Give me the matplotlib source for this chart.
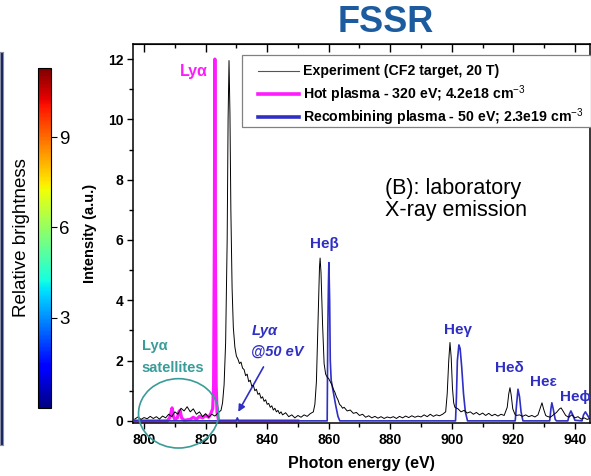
import matplotlib
matplotlib.use("Agg")
import matplotlib.pyplot as plt
import matplotlib.colors as mcolors
import matplotlib.colorbar as mcolorbar
from matplotlib.patches import Ellipse, Rectangle
from matplotlib.lines import Line2D
from matplotlib.ticker import MultipleLocator

plt.rcParams['font.family'] = ['Liberation Sans', 'DejaVu Sans']
plt.rcParams['mathtext.fontset'] = 'custom'
plt.rcParams['mathtext.rm'] = 'Liberation Sans'
plt.rcParams['mathtext.bf'] = 'Liberation Sans:bold'

# ---------------- data ----------------
exp_energy = [797, 798, 799, 800, 801, 802, 803, 804, 805, 806, 807, 808, 809, 810,
              811, 812, 813, 814, 815, 816, 817, 818, 819, 820, 821, 822, 823, 824,
              825, 825.5, 826, 826.5, 827, 827.3, 827.6, 827.9, 828.2, 828.6, 829,
              829.5, 830, 830.5, 831, 831.5, 832, 832.5, 833, 833.5, 834, 834.5,
              835, 835.5, 836, 836.5, 837, 837.5, 838, 838.5, 839, 839.5, 840,
              840.5, 841, 841.5, 842, 842.5, 843, 843.5, 844, 844.5, 845, 846, 847,
              848, 849, 850, 851, 852, 853, 854, 855, 855.5, 856, 856.5, 857, 857.2,
              857.5, 858, 858.5, 859, 859.5, 860, 860.5, 861, 861.5, 862, 862.5,
              863, 863.5, 864, 864.5, 865, 866, 867, 868, 869, 870, 871, 872, 873,
              874, 875, 876, 877, 878, 879, 880, 881, 882, 883, 884, 885, 886, 887,
              888, 889, 890, 891, 892, 893, 894, 895, 896, 897, 898, 898.5, 899,
              899.4, 899.8, 900.2, 900.6, 901, 902, 903, 904, 905, 906, 907, 908,
              909, 910, 911, 912, 913, 914, 915, 916, 917, 918, 918.5, 918.9, 919.3,
              919.8, 920.5, 921, 922, 923, 924, 925, 926, 927, 928, 928.8, 929.3,
              929.8, 930.5, 931, 932, 933, 934, 935, 935.5, 936, 937, 938, 939, 940,
              941, 942, 943, 944, 945]
exp_intensity = [0.06, 0.13, 0.05, 0.11, 0.07, 0.15, 0.08, 0.14, 0.06, 0.16, 0.10, 0.22,
                 0.14, 0.30, 0.22, 0.42, 0.33, 0.47, 0.30, 0.40, 0.22, 0.30, 0.14, 0.24,
                 0.12, 0.22, 0.16, 0.26, 0.35, 0.60, 1.2, 2.6, 6.0, 10.0, 11.95, 10.2,
                 7.0, 4.4, 3.1, 2.45, 2.15, 2.05, 1.9, 1.95, 1.75, 1.70, 1.50, 1.55,
                 1.30, 1.35, 1.15, 1.18, 1.00, 1.05, 0.88, 0.92, 0.75, 0.80, 0.65,
                 0.70, 0.55, 0.58, 0.45, 0.50, 0.36, 0.42, 0.30, 0.35, 0.24, 0.30,
                 0.20, 0.27, 0.14, 0.20, 0.10, 0.18, 0.12, 0.20, 0.15, 0.24, 0.30,
                 0.55, 1.3, 3.2, 5.1, 5.4, 4.9, 3.2, 1.9, 1.55, 1.45, 1.40, 1.30, 1.20,
                 1.05, 0.95, 0.80, 0.70, 0.55, 0.50, 0.42, 0.45, 0.33, 0.36, 0.25,
                 0.28, 0.18, 0.22, 0.12, 0.17, 0.10, 0.15, 0.09, 0.14, 0.08, 0.13,
                 0.10, 0.14, 0.08, 0.15, 0.10, 0.16, 0.11, 0.17, 0.12, 0.16, 0.13,
                 0.20, 0.14, 0.22, 0.15, 0.20, 0.17, 0.22, 0.30, 0.90, 2.0, 2.6, 2.1,
                 1.1, 0.60, 0.45, 0.40, 0.30, 0.35, 0.26, 0.30, 0.22, 0.28, 0.20,
                 0.26, 0.18, 0.25, 0.17, 0.22, 0.16, 0.22, 0.18, 0.45, 0.90, 1.10,
                 0.85, 0.40, 0.22, 0.18, 0.20, 0.15, 0.20, 0.14, 0.18, 0.13, 0.20,
                 0.45, 0.60, 0.40, 0.18, 0.15, 0.12, 0.20, 0.28, 0.40, 0.43, 0.35,
                 0.18, 0.12, 0.20, 0.10, 0.14, 0.06, 0.10, 0.05, 0.08]

hot_energy = [796.4, 807.5, 808.3, 808.8, 809.1, 809.5, 810.0, 810.8, 811.3, 811.7,
              812.2, 813.0, 815.0, 816.0, 817.0, 818.0, 819.0, 820.0, 821.0, 821.7,
              822.3, 822.6, 822.85, 823.0, 823.15, 823.4, 823.7, 824.2, 824.5, 850.0]
hot_intensity = [0, 0, 0.10, 0.30, 0.43, 0.15, 0.05, 0.10, 0.30, 0.35,
                 0.10, 0.02, 0.05, 0.12, 0.05, 0.15, 0.10, 0.18, 0.12, 0.25,
                 0.40, 1.2, 6.0, 12.0, 6.0, 1.2, 0.30, 0.02, 0, 0]

rec_energy = [796.4, 829.9, 830.3, 830.7, 859.5, 859.7, 859.9, 860.05, 860.3, 860.5,
              860.8, 861.5, 862.3, 863.0, 863.6, 901.2, 901.5, 901.8, 902.3, 902.7,
              903.2, 903.8, 904.4, 905.1, 920.6, 921.0, 921.5, 922.0, 922.5, 923.1,
              931.8, 932.2, 932.5, 932.9, 933.6, 934.0, 937.7, 938.2, 938.7, 939.3,
              940.0, 942.3, 942.8, 943.4, 944.0, 944.9]
rec_intensity = [0, 0, 0.10, 0, 0, 3.0, 4.5, 5.25, 4.0, 2.0,
                 1.35, 0.95, 0.50, 0.15, 0, 0, 0.8, 2.0, 2.52, 2.4,
                 1.8, 0.9, 0.3, 0, 0, 0.5, 1.05, 0.8, 0.3, 0,
                 0, 0.40, 0.60, 0.42, 0.05, 0, 0, 0.22, 0.33, 0.20,
                 0.02, 0, 0.20, 0.30, 0.20, 0.05]

legend_labels = ["Experiment (CF2 target, 20 T)",
                 r"Hot plasma - 320 eV; 4.2e18 cm$^{-3}$",
                 r"Recombining plasma - 50 eV; 2.3e19 cm$^{-3}$"]

line_labels = ["He\u03b2", "He\u03b3", "He\u03b4", "He\u03b5", "He\u03d5"]
line_label_x = [858.6, 902.0, 918.6, 929.6, 940.2]
line_label_y = [5.86, 3.0, 1.75, 1.3, 0.8]

x_ticks = [800, 820, 840, 860, 880, 900, 920, 940]
y_ticks = [0, 2, 4, 6, 8, 10, 12]
cbar_ticks = [3, 6, 9]

# ---------------- figure ----------------
W, H = 591, 476
fig = plt.figure(figsize=(W / 100, H / 100), dpi=100)

def frac(x0, y0, x1, y1):
    return [x0 / W, 1 - y1 / H, (x1 - x0) / W, (y1 - y0) / H]

BLUE = '#2f2fc4'
MAG = '#ff1aff'
TEAL = '#3a9c98'

# sliver of the neighbouring image at the far left
axs = fig.add_axes(frac(0, 52, 3, 445))
axs.set_facecolor('#15205e')
axs.set_xticks([])
axs.set_yticks([])
for s in axs.spines.values():
    s.set_color('#8890a8')
    s.set_linewidth(0.8)

# colour bar
cax = fig.add_axes(frac(38, 68, 51, 408))
cb = mcolorbar.ColorbarBase(cax, cmap=plt.get_cmap('jet'),
                            norm=mcolors.Normalize(0, 11.3), ticks=cbar_ticks)
cb.outline.set_linewidth(0.8)
cax.tick_params(axis='y', labelsize=13.5, length=4, width=0.8, pad=2)
fig.text(22 / W, 1 - 238 / H, "Relative brightness", rotation=90,
         ha='center', va='center', fontsize=13.5)

# main spectrum axes
AX_L, AX_T, AX_R, AX_B = 133, 44, 590, 423
ax = fig.add_axes(frac(AX_L, AX_T, AX_R, AX_B))
ax.plot(hot_energy, hot_intensity, color=MAG, lw=2.3, zorder=2,
        solid_joinstyle='round')
ax.plot(rec_energy, rec_intensity, color=BLUE, lw=1.2, zorder=3)
ax.plot(exp_energy, exp_intensity, color='black', lw=0.7, zorder=4)

ax.set_xlim(796.4, 944.9)
ax.set_ylim(-0.07, 12.5)
ax.set_xticks(x_ticks)
ax.set_yticks(y_ticks)
ax.xaxis.set_minor_locator(MultipleLocator(10))
ax.yaxis.set_minor_locator(MultipleLocator(1))
ax.tick_params(axis='both', which='major', labelsize=10, width=1.0, length=4.5,
               direction='out', pad=2.5)
ax.tick_params(axis='both', which='minor', width=1.0, length=3, direction='out')
for lbl in ax.get_xticklabels() + ax.get_yticklabels():
    lbl.set_fontweight('bold')
for s in ax.spines.values():
    s.set_linewidth(1.1)

# top ticks inward
sec = ax.secondary_xaxis('top')
sec.set_xticks(x_ticks)
sec.xaxis.set_minor_locator(MultipleLocator(10))
sec.tick_params(which='major', direction='in', length=6, width=1.0, labeltop=False)
sec.tick_params(which='minor', direction='in', length=3, width=1.0)
sec.set_xticklabels([])

ax.set_xlabel("Photon energy (eV)", fontsize=11.5, fontweight='bold', labelpad=7)
ax.set_ylabel("Intensity (a.u.)", fontsize=10.5, fontweight='bold', labelpad=8)

# legend (drawn as a framed box in pixel-based axes fractions)
def axpx(px, py):
    return ((px - AX_L) / (AX_R - AX_L), (AX_B - py) / (AX_B - AX_T))

x0, y0 = axpx(242, 127)
x1, y1 = axpx(591, 55)
ax.add_patch(Rectangle((x0, y0), x1 - x0, y1 - y0, transform=ax.transAxes,
                       facecolor='white', edgecolor='#808080', lw=0.9,
                       clip_on=False, zorder=6))
leg_colors = ['#555555', MAG, BLUE]
leg_widths = [0.8, 2.6, 2.6]
for lab, col, lw_, py in zip(legend_labels, leg_colors, leg_widths, [71, 94, 117]):
    lx0, ly = axpx(258, py)
    lx1, _ = axpx(299, py)
    ax.add_line(Line2D([lx0, lx1], [ly, ly], transform=ax.transAxes, color=col,
                       lw=lw_, clip_on=False, zorder=7))
    tx, _ = axpx(303, py)
    ax.text(tx, ly, lab, transform=ax.transAxes, fontsize=10.2, fontweight='bold',
            ha='left', va='center', zorder=7)

# annotations
ax.text(820.6, 11.6, "Ly\u03b1", color=MAG, fontsize=11.5, fontweight='bold',
        ha='right', va='center')
for lab, lx, ly in zip(line_labels, line_label_x, line_label_y):
    ax.text(lx, ly, lab, color=BLUE, fontsize=11, fontweight='bold',
            ha='center', va='center')
ax.text(799.3, 2.5, "Ly\u03b1", color=TEAL, fontsize=10.5, fontweight='bold',
        ha='left', va='center')
ax.text(799.3, 1.75, "satellites", color=TEAL, fontsize=10.5, fontweight='bold',
        ha='left', va='center')
ax.add_patch(Ellipse((811.2, 0.25), 26, 2.3, fill=False, edgecolor=TEAL, lw=1.2,
                     clip_on=False, zorder=5))
ax.text(834.9, 2.98, "Ly\u03b1", color=BLUE, fontsize=10.5, fontweight='bold',
        style='italic', ha='left', va='center')
ax.text(834.6, 2.28, "@50 eV", color=BLUE, fontsize=10.5, fontweight='bold',
        style='italic', ha='left', va='center')
ax.annotate("", xy=(830.6, 0.3), xytext=(838.8, 1.79),
            arrowprops=dict(arrowstyle='-|>', color=BLUE, lw=1.2,
                            mutation_scale=10, shrinkA=0, shrinkB=0))

ax.text(0.551, 0.59, "(B): laboratory\nX-ray emission", transform=ax.transAxes,
        fontsize=15.5, ha='left', va='center', linespacing=1.05)

fig.text(386 / W, 1 - 23 / H, "FSSR", color='#1c5c9e', fontsize=26,
         fontweight='bold', ha='center', va='center')

fig.savefig("out.png", dpi=100)
